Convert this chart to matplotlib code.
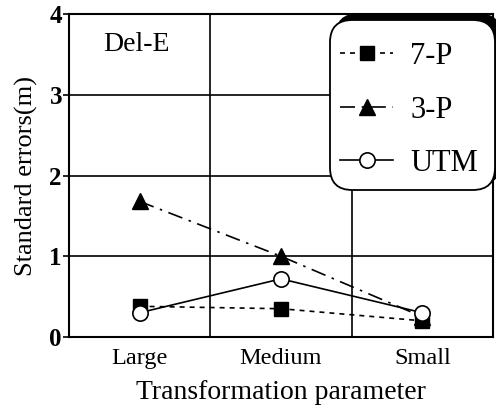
import matplotlib
matplotlib.use("Agg")
import matplotlib.pyplot as plt
from matplotlib.patches import FancyBboxPatch

plt.rcParams['font.family'] = ['Liberation Serif', 'DejaVu Serif']

categories = ["Large", "Medium", "Small"]
p7 = [0.38, 0.35, 0.2]
p3 = [1.68, 1.0, 0.25]
utm = [0.3, 0.72, 0.3]
yticks = [0, 1, 2, 3, 4]

W, H = 496, 405
fig = plt.figure(figsize=(W / 100, H / 100), dpi=100)
ax = fig.add_axes([0.139, 0.168, 0.855, 0.797])

x = list(range(len(categories)))
ax.plot(x, p7, color='black', linestyle=(0, (3, 3)), lw=1.2, marker='s',
        markersize=9.5, markerfacecolor='black', label='7-P', zorder=3)
ax.plot(x, p3, color='black', linestyle=(0, (9, 4, 1.5, 4)), lw=1.2, marker='^',
        markersize=11, markerfacecolor='black', label='3-P', zorder=3)
ax.plot(x, utm, color='black', linestyle='-', lw=1.2, marker='o',
        markersize=11, markerfacecolor='white', markeredgewidth=1.2, label='UTM', zorder=4)

ax.set_xlim(-0.5, 2.5)
ax.set_ylim(0, 4)
ax.set_yticks(yticks)
ax.set_xticks(x)
ax.set_xticklabels(categories)
ax.tick_params(axis='x', length=0, labelsize=17.5, pad=8)
ax.tick_params(axis='y', direction='out', length=4, width=1.2, labelsize=18, pad=1)
for t in ax.get_yticklabels():
    t.set_fontweight('bold')

for v in [1, 2, 3]:
    ax.axhline(v, color='black', lw=1.2, zorder=1)
for v in [0.5, 1.5]:
    ax.axvline(v, color='black', lw=1.2, zorder=1)
for s in ax.spines.values():
    s.set_linewidth(1.5)

ax.set_xlabel("Transformation parameter", fontsize=20, labelpad=8)
ax.set_ylabel("Standard errors(m)", fontsize=19, labelpad=8)
ax.text(0.08, 0.905, "Del-E", transform=ax.transAxes, fontsize=20, ha='left', va='center')

# legend frame (with shadow toward upper right), drawn in figure pixel coordinates
def px(xp, yp):
    return xp / W, 1 - yp / H

bx0, by_top, bx1, by_bot = 330, 20, 495, 190
fx0, fy0 = px(bx0, by_bot)
fx1, fy1 = px(bx1, by_top)
sh = 6
shadow = FancyBboxPatch((fx0 + sh / W, fy0 + sh / H), fx1 - fx0, fy1 - fy0,
                        boxstyle='round,pad=0,rounding_size=0.045', mutation_aspect=W / H,
                        transform=fig.transFigure, facecolor='black', edgecolor='black',
                        zorder=9)
frame = FancyBboxPatch((fx0, fy0), fx1 - fx0, fy1 - fy0,
                       boxstyle='round,pad=0,rounding_size=0.045', mutation_aspect=W / H,
                       transform=fig.transFigure, facecolor='white', edgecolor='black',
                       lw=1.3, zorder=10)
fig.add_artist(shadow)
fig.add_artist(frame)

leg = fig.legend(*ax.get_legend_handles_labels(), loc='center left',
                 bbox_to_anchor=px(340, 110), fontsize=22, frameon=False,
                 handlelength=1.75, handletextpad=0.55, labelspacing=0.8,
                 borderpad=0.0, borderaxespad=0.0)
leg.set_zorder(11)

fig.savefig("out.png", dpi=100)
